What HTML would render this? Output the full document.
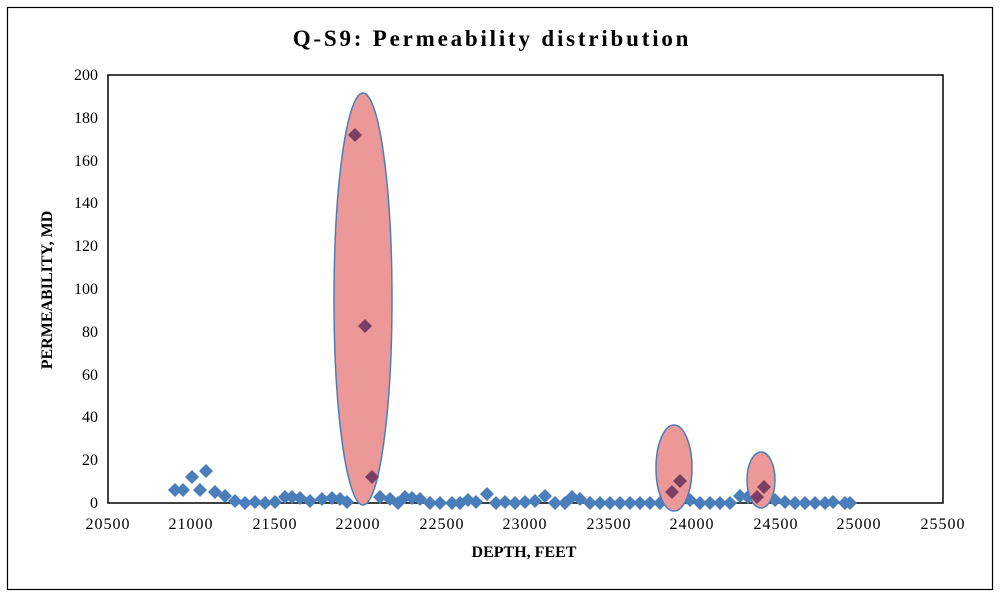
<!DOCTYPE html>
<html><head><meta charset="utf-8"><style>
body{margin:0;background:#fff;}
svg{display:block;font-family:"Liberation Serif",serif;}
</style></head><body>
<svg width="1000" height="595" viewBox="0 0 1000 595">
<rect x="0" y="0" width="1000" height="595" fill="#fff"/>
<rect x="7.5" y="7.5" width="985" height="582" fill="none" stroke="#000" stroke-width="1.2"/>
<text x="492" y="46" text-anchor="middle" font-size="23" font-weight="bold" letter-spacing="2.8">Q-S9: Permeability distribution</text>
<rect x="108" y="75" width="835" height="428" fill="none" stroke="#000" stroke-width="1.5"/>
<g font-size="16" text-anchor="end">
<text x="98" y="508">0</text><text x="98" y="465">20</text><text x="98" y="422">40</text><text x="98" y="380">60</text><text x="98" y="337">80</text><text x="98" y="294">100</text><text x="98" y="251">120</text><text x="98" y="208">140</text><text x="98" y="166">160</text><text x="98" y="123">180</text><text x="98" y="80">200</text>
</g>
<g font-size="16" text-anchor="middle" letter-spacing="1">
<text x="108" y="529">20500</text><text x="191" y="529">21000</text><text x="275" y="529">21500</text><text x="358" y="529">22000</text><text x="442" y="529">22500</text><text x="525" y="529">23000</text><text x="609" y="529">23500</text><text x="692" y="529">24000</text><text x="776" y="529">24500</text><text x="859" y="529">25000</text><text x="943" y="529">25500</text>
</g>
<text x="524" y="557" text-anchor="middle" font-size="16" font-weight="bold">DEPTH, FEET</text>
<text transform="translate(52,290) rotate(-90)" text-anchor="middle" font-size="16" font-weight="bold">PERMEABILITY, MD</text>
<defs><path id="d" d="M0,-7 L7,0 L0,7 L-7,0Z"/></defs>
<g fill="#4a7ebb" id="pts"></g>
<g fill="#ec9898" stroke="#4a7ebb" stroke-width="1.5">
<ellipse cx="363" cy="299" rx="29" ry="206"/>
<ellipse cx="674" cy="468" rx="18" ry="43"/>
<ellipse cx="761" cy="480" rx="14" ry="28"/>
</g>
<g fill="#7a3f63">
<use href="#d" x="355" y="135"/><use href="#d" x="365" y="326"/><use href="#d" x="372" y="477"/>
<use href="#d" x="672" y="492"/><use href="#d" x="680" y="481"/>
<use href="#d" x="757" y="497"/><use href="#d" x="764" y="487"/>
</g>
</svg>
<script>
var g=document.getElementById('pts'),pts=[[175,490],[183,490],[192,477],[200,490],[206,471],[215,492],[225,496],[235,501],[245,503],[255,502],[265,503],[275,502],[285,497],[292,497],[300,498],[310,501],[322,499],[332,498],[340,499],[347,502],[380,497],[390,499],[398,503],[405,497],[412,498],[420,499],[430,503],[440,503],[452,503],[460,503],[468,500],[476,502],[487,494],[496,503],[505,502],[515,503],[525,502],[535,501],[545,496],[555,503],[565,503],[572,497],[580,499],[590,503],[600,503],[610,503],[620,503],[630,503],[640,503],[650,503],[660,503],[690,500],[700,503],[710,503],[720,503],[730,503],[740,496],[748,497],[775,500],[785,502],[795,503],[805,503],[815,503],[825,503],[833,502],[845,503],[850,503]];
pts.forEach(function(p){var u=document.createElementNS('http://www.w3.org/2000/svg','use');u.setAttribute('href','#d');u.setAttribute('x',p[0]);u.setAttribute('y',p[1]);g.appendChild(u);});
</script>
</body></html>
